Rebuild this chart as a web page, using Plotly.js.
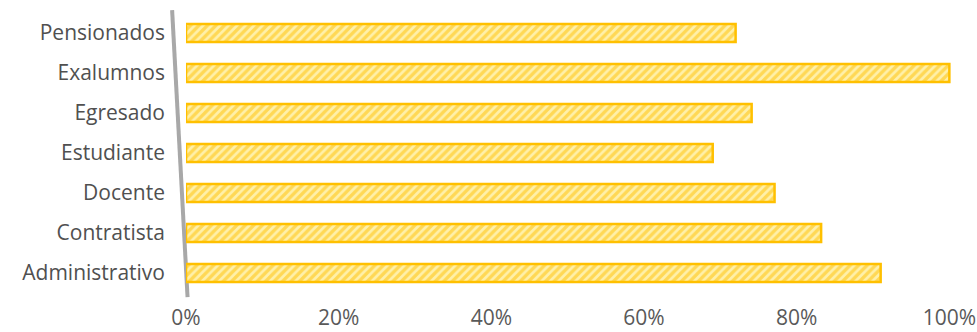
<!DOCTYPE html>
<html>
<head>
<meta charset="utf-8">
<script src="https://cdn.plot.ly/plotly-3.0.1.min.js"></script>
<style>html,body{margin:0;padding:0;background:#fff;}#chart{width:977px;height:332px;}</style>
</head>
<body>
<div id="chart"></div>
<script>
const categories = ["Administrativo", "Contratista", "Docente", "Estudiante", "Egresado", "Exalumnos", "Pensionados"];
const values = [0.91, 0.832, 0.771, 0.69, 0.741, 1.0, 0.72];
const tickValues = [0, 0.2, 0.4, 0.6, 0.8, 1.0];
const tickLabels = ["0%", "20%", "40%", "60%", "80%", "100%"];

const trace = {
  type: "bar",
  orientation: "h",
  x: values,
  y: categories,
  marker: {
    color: "#FFEFA6",
    line: {color: "#FFC000", width: 2.5},
    pattern: {shape: "/", fgcolor: "#FFC000", bgcolor: "#FFF0AA", size: 6, solidity: 0.55, fillmode: "overlay"}
  },
  hoverinfo: "none"
};

const layout = {
  width: 977, height: 332,
  margin: {l: 186, r: 20, t: 13, b: 39},
  paper_bgcolor: "#fff", plot_bgcolor: "#fff",
  font: {family: "Open Sans, Noto Sans, sans-serif", color: "#595959", size: 21},
  bargap: 0.55,
  showlegend: false,
  xaxis: {
    range: [0, 1.01], tickvals: tickValues, ticktext: tickLabels,
    showgrid: false, zeroline: false, showline: false, ticks: "",
    ticklabelstandoff: 10, ticklabeloverflow: "allow",
    tickfont: {size: 21, color: "#595959"}
  },
  yaxis: {
    categoryorder: "array", categoryarray: categories,
    showgrid: false, zeroline: false, showline: false, ticks: "",
    ticklabelstandoff: 20, tickfont: {size: 21, color: "#505050"}
  },
  shapes: [{
    type: "line", xref: "paper", yref: "paper",
    x0: -0.018, y0: 1.01, x1: 0.002, y1: -0.015,
    line: {color: "#A8A8A8", width: 4}, layer: "below"
  }]
};

Plotly.newPlot("chart", [trace], layout, {displayModeBar: false, staticPlot: true});
</script>
</body>
</html>
